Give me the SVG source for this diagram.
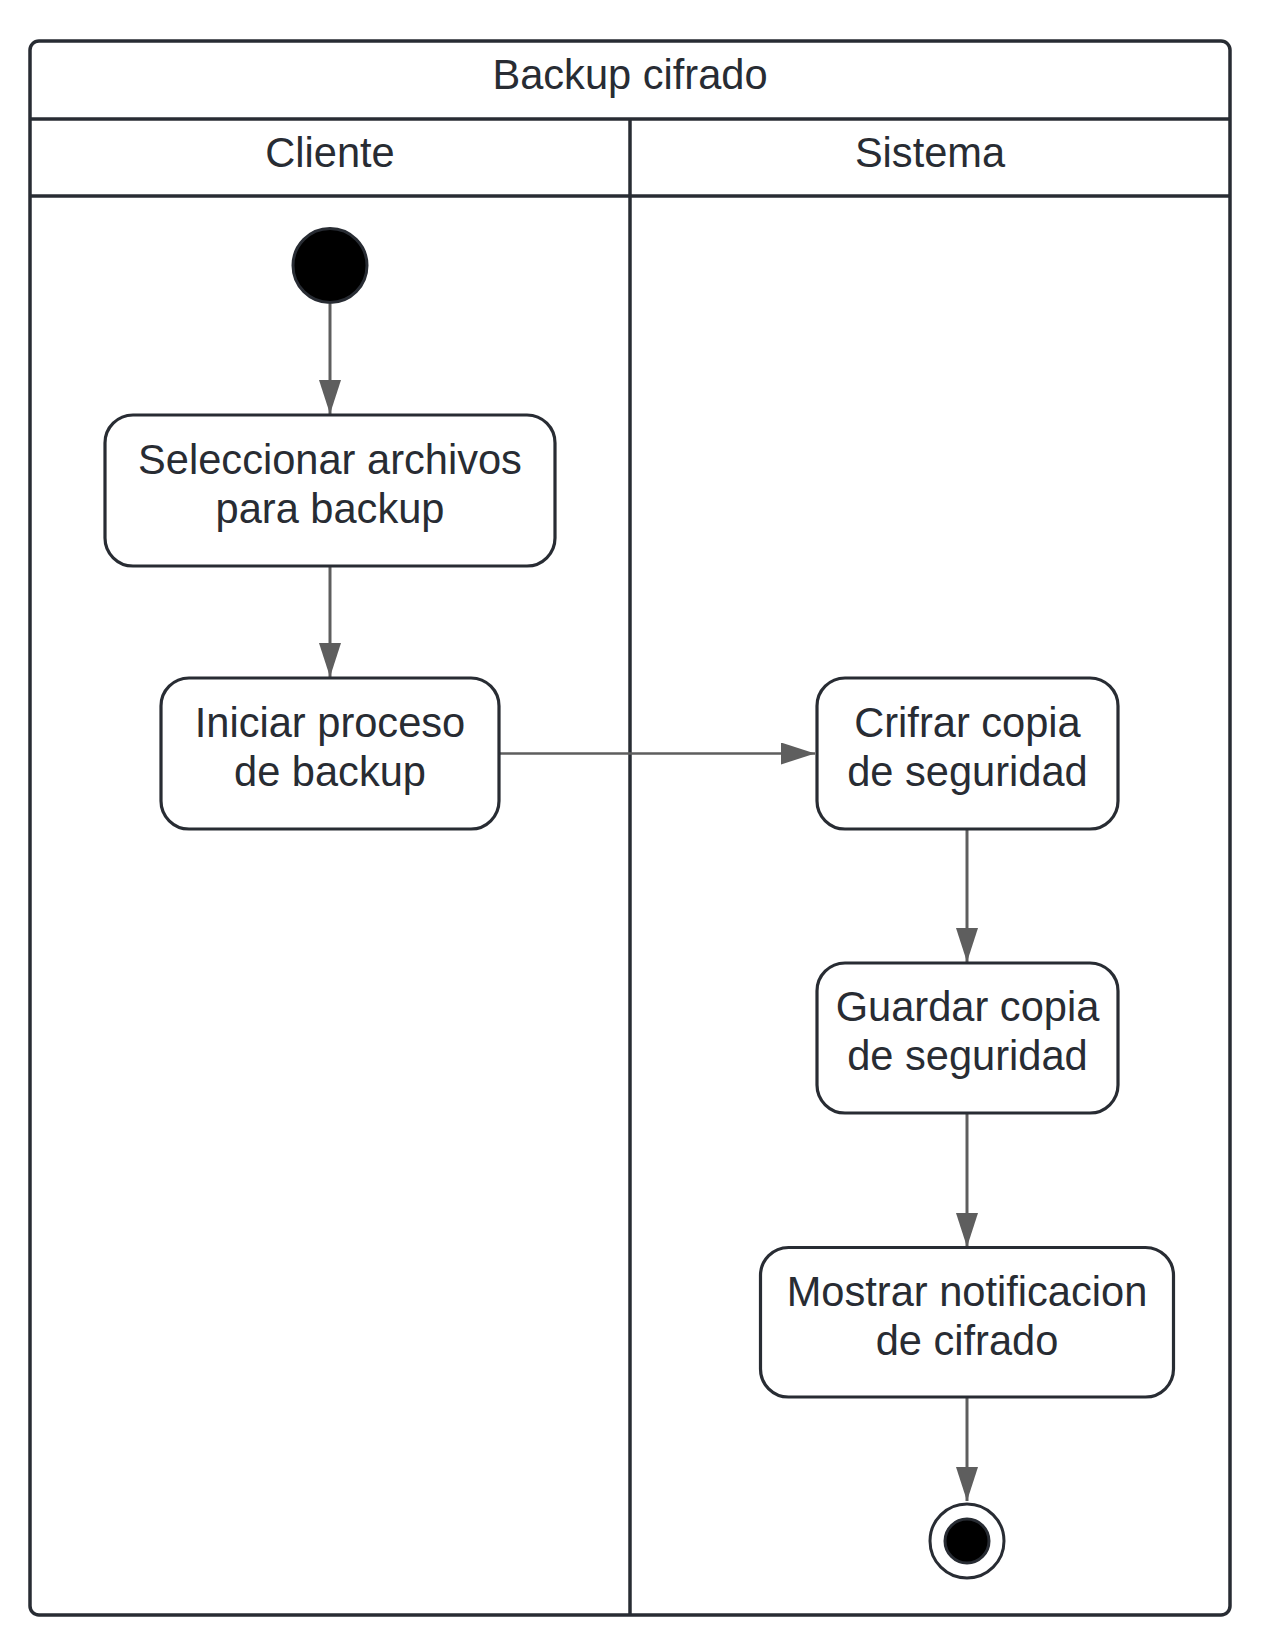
<svg xmlns="http://www.w3.org/2000/svg" width="1268" height="1646" viewBox="0 0 1268 1646">
<style>
.frame{fill:#ffffff;stroke:#282c33;stroke-width:3.5}
.line{stroke:#282c33;stroke-width:3.5;fill:none}
.node{fill:#ffffff;stroke:#282c33;stroke-width:3.2}
.txt{font-family:"Liberation Sans",Arial,sans-serif;font-size:41.6px;fill:#282c33;text-anchor:middle}
.conn{stroke:#5e5e5e;stroke-width:3;fill:none}
</style>
<defs>
<marker id="arr" markerUnits="userSpaceOnUse" viewBox="0 0 34 22" refX="34" refY="11" markerWidth="34" markerHeight="22" orient="auto">
<path d="M0,0 L34,11 L0,22 Z" fill="#5e5e5e"/>
</marker>
</defs>
<rect width="1268" height="1646" fill="#ffffff"/>
<g id="pool">
<rect class="frame" x="30" y="41" width="1200" height="1574" rx="9"/>
<line class="line" x1="30" y1="119" x2="1230" y2="119"/>
<line class="line" x1="30" y1="196" x2="1230" y2="196"/>
<line class="line" x1="630" y1="119" x2="630" y2="1615"/>
<text class="txt" x="630" y="89">Backup cifrado</text>
<text class="txt" x="330" y="167">Cliente</text>
<text class="txt" x="930" y="167">Sistema</text>
</g>
<g id="connectors">
<line class="conn" x1="330" y1="304" x2="330" y2="414" marker-end="url(#arr)"/>
<line class="conn" x1="330" y1="566" x2="330" y2="677" marker-end="url(#arr)"/>
<line class="conn" x1="499" y1="753.5" x2="815" y2="753.5" style="stroke-width:2.5" marker-end="url(#arr)"/>
<line class="conn" x1="967" y1="829" x2="967" y2="962" marker-end="url(#arr)"/>
<line class="conn" x1="967" y1="1113" x2="967" y2="1247" marker-end="url(#arr)"/>
<line class="conn" x1="967" y1="1397" x2="967" y2="1501" marker-end="url(#arr)"/>
</g>
<g id="start">
<circle cx="330" cy="265.5" r="37" fill="#000000" stroke="#282c33" stroke-width="3"/>
</g>
<g id="node1">
<rect class="node" x="105" y="415" width="450" height="151" rx="28"/>
<text class="txt" x="330" y="474">Seleccionar archivos</text>
<text class="txt" x="330" y="523">para backup</text>
</g>
<g id="node2">
<rect class="node" x="161" y="678" width="338" height="151" rx="28"/>
<text class="txt" x="330" y="737">Iniciar proceso</text>
<text class="txt" x="330" y="786">de backup</text>
</g>
<g id="node3">
<rect class="node" x="817" y="678" width="301" height="151" rx="28"/>
<text class="txt" x="967.5" y="737">Crifrar copia</text>
<text class="txt" x="967.5" y="786">de seguridad</text>
</g>
<g id="node4">
<rect class="node" x="817" y="963" width="301" height="150" rx="28"/>
<text class="txt" x="967.5" y="1021">Guardar copia</text>
<text class="txt" x="967.5" y="1070">de seguridad</text>
</g>
<g id="node5">
<rect class="node" x="760.5" y="1247.5" width="413" height="149.5" rx="28"/>
<text class="txt" x="967" y="1306">Mostrar notificacion</text>
<text class="txt" x="967" y="1355">de cifrado</text>
</g>
<g id="end">
<circle cx="967" cy="1541" r="37" fill="#ffffff" stroke="#282c33" stroke-width="3"/>
<circle cx="967" cy="1541" r="22" fill="#000000" stroke="#282c33" stroke-width="3"/>
</g>
</svg>
